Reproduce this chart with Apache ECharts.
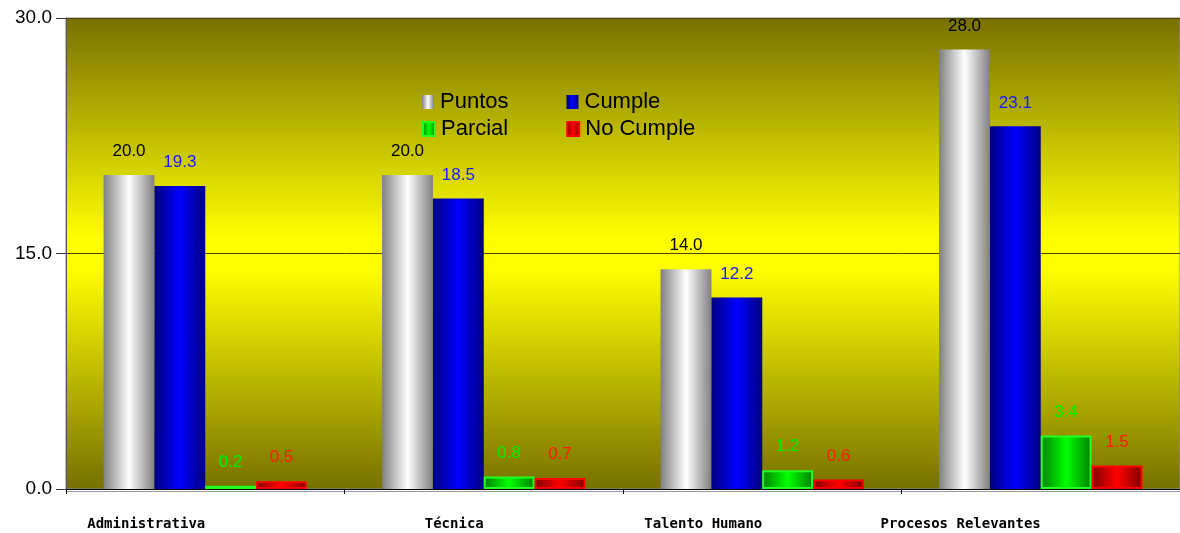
<!DOCTYPE html>
<html>
<head>
<meta charset="utf-8">
<script src="https://cdn.jsdelivr.net/npm/echarts@6/dist/echarts.min.js"></script>
<style>html,body{margin:0;padding:0;background:#fff;}#c{width:1180px;height:533px;}</style>
</head>
<body>
<div id="c"></div>
<script>
var categories = ["Administrativa", "Técnica", "Talento Humano", "Procesos Relevantes"];
var puntos = [20.0, 20.0, 14.0, 28.0];
var cumple = [19.3, 18.5, 12.2, 23.1];
var parcial = [0.2, 0.8, 1.2, 3.4];
var noCumple = [0.5, 0.7, 0.6, 1.5];
var yTicks = [0, 15, 30];

function hgrad(edge, mid) {
  return new echarts.graphic.LinearGradient(0, 0, 1, 0, [
    {offset: 0, color: edge}, {offset: 0.5, color: mid}, {offset: 1, color: edge}
  ]);
}
var chart = echarts.init(document.getElementById('c'));
var FF = 'Liberation Sans, Arial, sans-serif';
function mkSeries(name, data, edge, mid, labelColor, border) {
  return {
    name: name, type: 'bar', data: data, barGap: '0%', barCategoryGap: '27%',
    itemStyle: {color: hgrad(edge, mid), borderColor: border || 'transparent', borderWidth: border ? 2 : 0},
    label: {show: true, position: 'top', distance: 15, color: labelColor,
      fontFamily: FF, fontSize: 17,
      formatter: function (p) { return p.value.toFixed(1); }},
    animation: false
  };
}
var legendText = {fontFamily: FF, fontSize: 22, color: '#000', padding: [0, 0, 0, 1]};
chart.setOption({
  animation: false,
  grid: {left: 66, right: 0, top: 18, bottom: 44, show: true, borderColor: '#8a8a8a', borderWidth: 1,
    backgroundColor: new echarts.graphic.LinearGradient(0, 0, 0, 1, [
      {offset: 0, color: '#787000'},
      {offset: 0.47, color: '#ffff00'},
      {offset: 0.53, color: '#ffff00'},
      {offset: 1, color: '#767000'}
    ])},
  legend: [
    {data: ['Puntos', 'Cumple'], left: 417, top: 86, itemWidth: 12, itemHeight: 14, itemGap: 58, textStyle: legendText, icon: 'rect'},
    {data: ['Parcial', 'No Cumple'], left: 417, top: 113, itemWidth: 12, itemHeight: 14, itemGap: 58, textStyle: legendText, icon: 'rect'}
  ],
  xAxis: {
    type: 'category', data: categories,
    axisLine: {lineStyle: {color: '#000', width: 1, shadowColor: '#999', shadowOffsetY: 2}},
    axisTick: {show: true, length: 5, lineStyle: {color: '#000'}},
    axisLabel: {margin: 28, align: 'right', fontFamily: 'DejaVu Sans Mono, monospace', fontWeight: 'bold', fontSize: 14, color: '#000'}
  },
  yAxis: {
    type: 'value', min: yTicks[0], max: yTicks[2], interval: 15,
    axisLine: {show: true, lineStyle: {color: '#555'}},
    axisTick: {show: true, length: 10, lineStyle: {color: '#333'}},
    axisLabel: {margin: 14, fontFamily: FF, fontSize: 19, color: '#000',
      formatter: function (v) { return v.toFixed(1); }},
    splitLine: {show: true, lineStyle: {color: '#4a4500', width: 1}}
  },
  series: [
    mkSeries('Puntos', puntos, '#808080', '#ffffff', '#000000'),
    mkSeries('Cumple', cumple, '#000080', '#0000ff', '#1a1aff'),
    mkSeries('Parcial', parcial, '#008000', '#00ff00', '#00f000', '#22ff22'),
    mkSeries('No Cumple', noCumple, '#800000', '#ff0000', '#ff1a00', '#ff0000')
  ]
});
</script>
</body>
</html>
